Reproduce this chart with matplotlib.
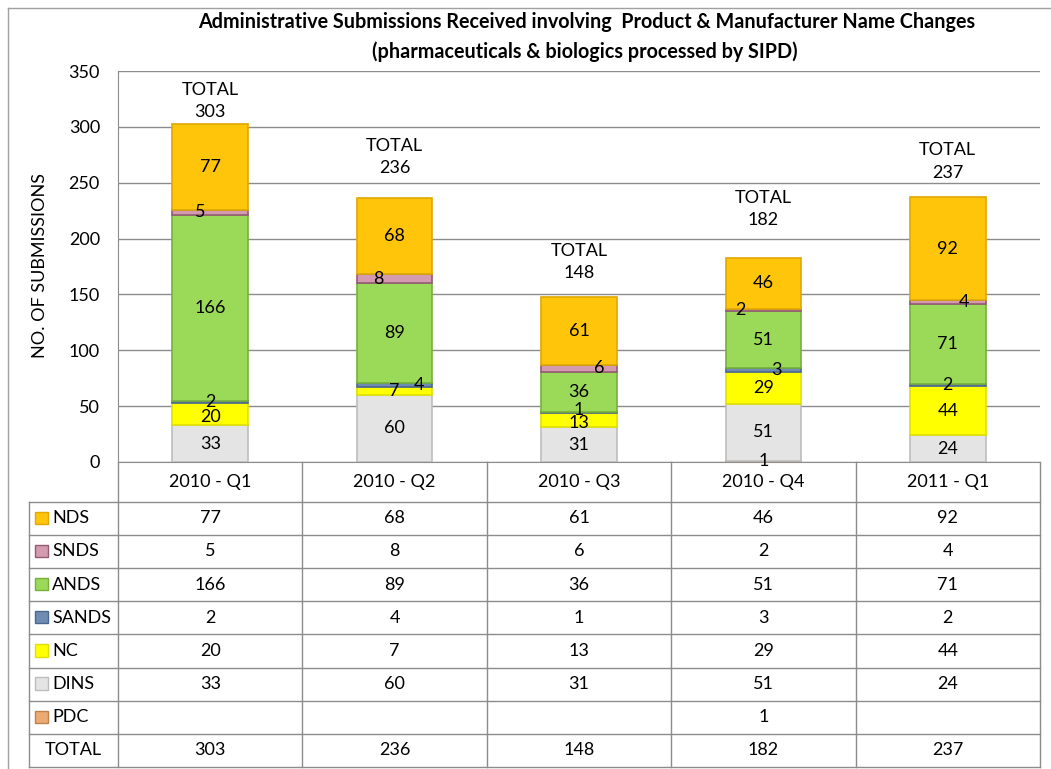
import matplotlib.pyplot as plt
import numpy as np
from matplotlib.patches import Rectangle
from matplotlib.lines import Line2D

plt.rcParams['font.family'] = ['Lato', 'DejaVu Sans']

categories = ['2010 - Q1', '2010 - Q2', '2010 - Q3', '2010 - Q4', '2011 - Q1']
series_names = ['NDS', 'SNDS', 'ANDS', 'SANDS', 'NC', 'DINS', 'PDC']
nds = [77, 68, 61, 46, 92]
snds = [5, 8, 6, 2, 4]
ands = [166, 89, 36, 51, 71]
sands = [2, 4, 1, 3, 2]
nc = [20, 7, 13, 29, 44]
dins = [33, 60, 31, 51, 24]
pdc = [None, None, None, 1, None]
totals = [303, 236, 148, 182, 237]

face = {'NDS': '#FFC50A', 'SNDS': '#D49AB0', 'ANDS': '#9BDA58', 'SANDS': '#6F8DB3',
        'NC': '#FFFF00', 'DINS': '#E4E4E4', 'PDC': '#EBAA72'}
edge = {'NDS': '#E0A800', 'SNDS': '#955A74', 'ANDS': '#76B03A', 'SANDS': '#4A6890',
        'NC': '#E0E000', 'DINS': '#BDBDBD', 'PDC': '#C0824C'}

values = {'NDS': nds, 'SNDS': snds, 'ANDS': ands, 'SANDS': sands,
          'NC': nc, 'DINS': dins, 'PDC': pdc}
stack_order = ['PDC', 'DINS', 'NC', 'SANDS', 'ANDS', 'SNDS', 'NDS']

# small nudges (pixels) for crowded labels
label_dx = {('SNDS', 0): -10, ('SNDS', 1): -16, ('SANDS', 1): 24, ('SNDS', 2): 20,
            ('SNDS', 3): -23, ('SANDS', 3): 13, ('SNDS', 4): 16}
label_dy = {('SANDS', 2): 2, ('NC', 2): -3, ('NC', 0): -3}
total_dy = [9, 28, 21, 35, 22]

W, H = 1051, 769
def fx(px):
    return px / W
def fy(py):
    return 1 - py / H

fig = plt.figure(figsize=(W / 100, H / 100), dpi=100)

ax = fig.add_axes([fx(118), fy(462), fx(1040) - fx(118), fy(71) - fy(462)])
x = np.arange(len(categories))
bottom = np.zeros(len(categories))
for name in stack_order:
    vals = np.array([np.nan if v is None else v for v in values[name]], dtype=float)
    h = np.nan_to_num(vals)
    ax.bar(x, h, 0.41, bottom=bottom, color=face[name], edgecolor=edge[name],
           linewidth=1.2, zorder=3)
    for i, v in enumerate(vals):
        if np.isnan(v):
            continue
        ax.annotate(str(int(v)), (i, bottom[i] + v / 2),
                    xytext=(label_dx.get((name, i), 0), label_dy.get((name, i), 0)),
                    textcoords='offset pixels', ha='center', va='center', fontsize=13, zorder=5)
    bottom += h

for i, t in enumerate(totals):
    ax.annotate('TOTAL\n%d' % t, (i, bottom[i]), xytext=(0, total_dy[i] + 13.5),
                textcoords='offset pixels', ha='center', va='center', fontsize=13,
                linespacing=1.5, zorder=5)

ax.set_xlim(-0.5, 4.5)
ax.set_ylim(0, 350)
ax.set_yticks(range(0, 351, 50))
ax.set_xticks([])
ax.tick_params(axis='y', length=0, pad=13, labelsize=13)
ax.yaxis.grid(True, color='#8C8C8C', linewidth=1)
ax.set_axisbelow(True)
for s in ['top', 'right']:
    ax.spines[s].set_visible(False)
for s in ['left', 'bottom']:
    ax.spines[s].set_color('#8C8C8C')

fig.text(fx(40), fy(266), 'NO. OF SUBMISSIONS', rotation=90, ha='center', va='center', fontsize=13)
fig.text(fx(587), fy(22), 'Administrative Submissions Received involving  Product & Manufacturer Name Changes',
         ha='center', va='center', fontsize=14.2, fontweight='bold')
fig.text(fx(585), fy(52), '(pharmaceuticals & biologics processed by SIPD)',
         ha='center', va='center', fontsize=14.2, fontweight='bold')

# data table below the chart
label_w = (118 - 29) / ((1040 - 118) / 5)
header_h = 40 / 33.4
tab = fig.add_axes([fx(29), 0, fx(1040) - fx(29), fy(462)])
tab.set_xlim(-0.5 - label_w, 4.5)
tab.set_ylim(8.06, -header_h)
tab.axis('off')
grid = '#8C8C8C'
for r in range(9):
    tab.plot([-0.5 - label_w, 4.5], [r, r], color=grid, lw=1, clip_on=False)
tab.plot([-0.5 - label_w, -0.5 - label_w], [0, 8], color=grid, lw=1, clip_on=False)
for c in range(6):
    tab.plot([c - 0.5, c - 0.5], [-header_h, 8], color=grid, lw=1, clip_on=False)

for i, cat in enumerate(categories):
    tab.text(i, -header_h / 2, cat, ha='center', va='center', fontsize=13)

row_names = series_names + ['TOTAL']
for r, name in enumerate(row_names):
    yc = r + 0.5
    if name == 'TOTAL':
        tab.text(-0.5 - label_w / 2, yc, name, ha='center', va='center', fontsize=13)
        vals = totals
    else:
        tab.add_patch(Rectangle((-0.5 - label_w + 0.035, yc - 0.2), 0.07, 0.37,
                                facecolor=face[name], edgecolor=edge[name], lw=1))
        tab.text(-0.5 - label_w + 0.125, yc, name, ha='left', va='center', fontsize=13)
        vals = values[name]
    for i, v in enumerate(vals):
        if v is None:
            continue
        tab.text(i, yc, str(v), ha='center', va='center', fontsize=13)

# outer chart border
fig.add_artist(Line2D([fx(8), fx(8)], [fy(8), 0], color='#A0A0A0', lw=1))
fig.add_artist(Line2D([fx(8), 1], [fy(8), fy(8)], color='#A0A0A0', lw=1))

fig.savefig('out.png', dpi=100)
